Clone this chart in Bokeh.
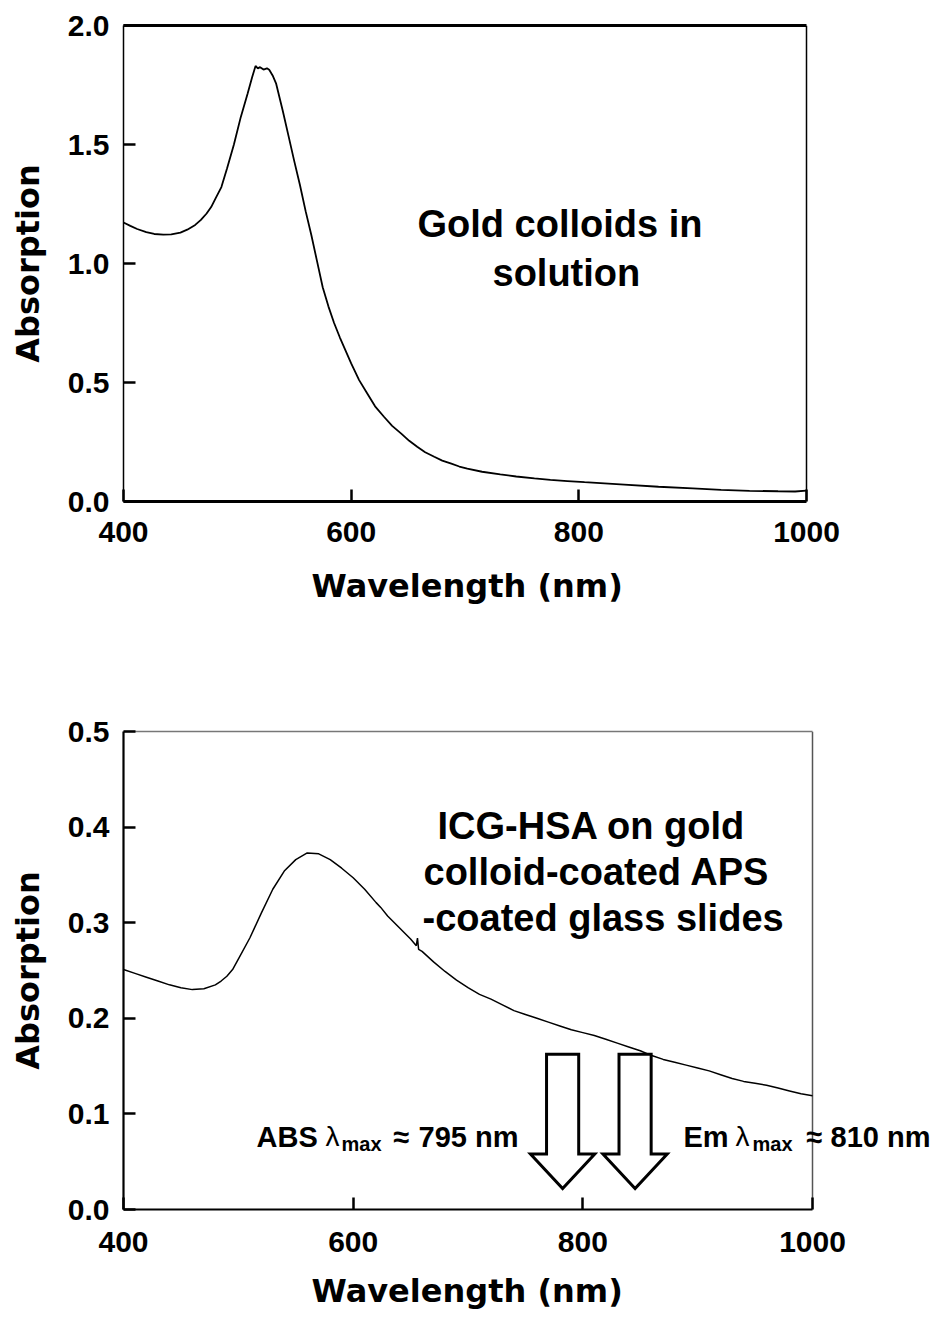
from bokeh.plotting import figure
from bokeh.models import Range1d, FixedTicker, PrintfTickFormatter, Label, LinearAxis, Title
from bokeh.layouts import column
from bokeh.embed import file_html
from bokeh.resources import INLINE

# ---------------- data ----------------
gold_wl = [400, 406, 412, 420, 427, 435, 442, 450, 456, 463, 468, 473, 477, 481, 486, 491,
           497, 503, 509, 513, 516, 518, 520, 523, 526, 528, 531, 534, 540, 545, 550, 555,
           560, 565, 570, 575, 580, 585, 590, 595, 600, 607, 614, 621, 629, 636, 644, 651,
           658, 665, 673, 680, 688, 695, 702, 715, 731, 745, 761, 775, 790, 805, 819, 840,
           870, 900, 925, 950, 975, 990, 1000]
gold_abs = [1.172, 1.158, 1.145, 1.132, 1.124, 1.121, 1.122, 1.130, 1.142, 1.162, 1.183,
            1.210, 1.237, 1.275, 1.321, 1.400, 1.500, 1.615, 1.713, 1.783, 1.830, 1.820,
            1.825, 1.815, 1.820, 1.814, 1.790, 1.757, 1.640, 1.535, 1.430, 1.330, 1.220,
            1.120, 1.010, 0.900, 0.820, 0.750, 0.690, 0.635, 0.580, 0.510, 0.455, 0.400,
            0.355, 0.318, 0.285, 0.255, 0.230, 0.207, 0.188, 0.172, 0.159, 0.147, 0.138,
            0.125, 0.114, 0.105, 0.097, 0.091, 0.086, 0.081, 0.077, 0.071, 0.062, 0.055,
            0.049, 0.045, 0.043, 0.042, 0.046]

icg_wl = [400, 410, 420, 430, 440, 450, 460, 470, 480, 485, 490, 495, 500, 510, 520, 530,
          540, 550, 560, 570, 580, 590, 600, 610, 620, 624, 630, 640, 650, 655, 656, 657,
          660, 670, 680, 690, 700, 710, 720, 730, 740, 750, 760, 770, 780, 790, 800, 810,
          820, 830, 840, 850, 860, 870, 880, 890, 900, 910, 920, 930, 940, 950, 960, 970,
          980, 990, 1000]
icg_abs = [0.251, 0.247, 0.243, 0.239, 0.235, 0.232, 0.230, 0.231, 0.235, 0.239, 0.244,
           0.251, 0.262, 0.284, 0.310, 0.335, 0.354, 0.366, 0.373, 0.372, 0.366, 0.357,
           0.347, 0.335, 0.321, 0.316, 0.307, 0.295, 0.283, 0.276, 0.284, 0.272, 0.270,
           0.259, 0.249, 0.240, 0.232, 0.225, 0.220, 0.214, 0.208, 0.204, 0.200, 0.196,
           0.192, 0.188, 0.185, 0.182, 0.178, 0.174, 0.170, 0.166, 0.161, 0.157, 0.154,
           0.151, 0.148, 0.145, 0.141, 0.137, 0.134, 0.132, 0.130, 0.127, 0.124, 0.121,
           0.119]

x_ticks = [400, 600, 800, 1000]
top_y_ticks = [0.0, 0.5, 1.0, 1.5, 2.0]
bot_y_ticks = [0.0, 0.1, 0.2, 0.3, 0.4, 0.5]
x_title = "Wavelength (nm)"
y_title = "Absorption"

# arrow annotations (bottom panel): centre wavelengths of the two hollow arrows
arrow_centers = [782.4, 845.5]
arrow_shaft_half = 14.0
arrow_head_half = 28.0
arrow_top = 0.1625
arrow_shaft_bottom = 0.058
arrow_tip = 0.022

TICK_FONT = "Liberation Sans"
TITLE_FONT = "DejaVu Sans"
ANN_FONT = "Liberation Sans"

# layout (pixels)
W = 934
TOP_H = 640
BOT_H = 685
FRAME_L = 123
TOP_BOX_R = 806     # where the top panel's box closes (1000 nm)
BOT_BOX_R = 812     # where the bottom panel's box closes (1000 nm)
PX_NM_TOP = (TOP_BOX_R - FRAME_L) / 600.0
PX_NM_BOT = (BOT_BOX_R - FRAME_L) / 600.0
X_TITLE_OFFSET = 188   # from frame left to the start of the x title


def style(p, yticks, x_line_w, y_line_w, x_title_standoff):
    p.xaxis.ticker = FixedTicker(ticks=x_ticks)
    p.yaxis.ticker = FixedTicker(ticks=yticks)
    p.xaxis.formatter = PrintfTickFormatter(format="%d")
    p.yaxis.formatter = PrintfTickFormatter(format="%.1f")
    for ax in (p.xaxis, p.yaxis):
        ax.major_tick_in = 12
        ax.major_tick_out = 0
        ax.major_tick_line_width = 2.5
        ax.major_tick_line_color = "black"
        ax.minor_tick_line_color = None
        ax.major_label_text_font = TICK_FONT
        ax.major_label_text_font_style = "bold"
        ax.major_label_text_font_size = "30px"
        ax.major_label_text_color = "black"
        ax.axis_label_text_font = TITLE_FONT
        ax.axis_label_text_font_style = "bold"
        ax.axis_label_text_font_size = "32px"
        ax.axis_label_text_color = "black"
        ax.axis_line_color = "black"
    p.xaxis.axis_line_width = x_line_w
    p.yaxis.axis_line_width = y_line_w
    p.xaxis.bounds = (400, 1000)
    p.yaxis.major_label_standoff = 14
    p.yaxis.axis_label = y_title
    p.yaxis.axis_label_standoff = 18
    # x title placed as a "below" title so it is centred on the 400-1000 box
    p.add_layout(Title(text=x_title, align="left", offset=X_TITLE_OFFSET,
                       standoff=x_title_standoff, text_font=TITLE_FONT,
                       text_font_style="bold", text_font_size="32px",
                       text_color="black"), "below")
    p.xgrid.visible = False
    p.ygrid.visible = False
    p.outline_line_color = None
    p.background_fill_color = "white"
    p.border_fill_color = "white"


def box_top_right(p, top_y, top_w, top_color, right_w, right_color):
    ax = LinearAxis(ticker=FixedTicker(ticks=[]), axis_line_width=top_w,
                    axis_line_color=top_color, major_label_text_font_size="0px",
                    major_tick_line_color=None, minor_tick_line_color=None,
                    bounds=(400, 1000))
    p.add_layout(ax, "above")
    p.segment(x0=[1000], y0=[0], x1=[1000], y1=[top_y], line_color=right_color,
              line_width=right_w)


# Both frames run to the right page edge (so notes beyond 1000 nm are not clipped);
# each box is closed at 1000 nm.
# ---------------- top panel ----------------
x_end_top = 400 + (W - FRAME_L) / PX_NM_TOP
p1 = figure(width=W, height=TOP_H, x_range=Range1d(400, x_end_top), y_range=Range1d(0, 2.0),
            output_backend="svg", toolbar_location=None,
            min_border_left=FRAME_L, min_border_right=0, min_border_top=25,
            min_border_bottom=TOP_H - 501)
p1.xaxis.major_label_standoff = 20
style(p1, top_y_ticks, 3, 1.5, 41)
box_top_right(p1, 2.0, 3, "black", 1.5, "black")
p1.line(gold_wl, gold_abs, line_color="black", line_width=1.8)

ann_kw = dict(text_font=ANN_FONT, text_font_style="bold", text_font_size="38px",
              text_color="black", text_align="left", text_baseline="alphabetic")


def tx(px):
    return 400 + (px - FRAME_L) / PX_NM_TOP


p1.add_layout(Label(x=tx(417), y=1.168, text="Gold colloids in", **ann_kw))
p1.add_layout(Label(x=tx(492), y=0.962, text="solution", **ann_kw))

# ---------------- bottom panel ----------------
x_end_bot = 400 + (W - FRAME_L) / PX_NM_BOT
bot_top = 731 - TOP_H
p2 = figure(width=W, height=BOT_H, x_range=Range1d(400, x_end_bot), y_range=Range1d(0, 0.5),
            output_backend="svg", toolbar_location=None,
            min_border_left=FRAME_L, min_border_right=0, min_border_top=bot_top,
            min_border_bottom=BOT_H - bot_top - 480)
p2.xaxis.major_label_standoff = 22
style(p2, bot_y_ticks, 1.8, 2.2, 31)
box_top_right(p2, 0.5, 1.3, "#777777", 1.5, "#555555")
p2.line(icg_wl, icg_abs, line_color="black", line_width=1.5)

xs, ys = [], []
for c in arrow_centers:
    xs.append([c - arrow_shaft_half, c + arrow_shaft_half, c + arrow_shaft_half,
               c + arrow_head_half, c, c - arrow_head_half, c - arrow_shaft_half])
    ys.append([arrow_top, arrow_top, arrow_shaft_bottom, arrow_shaft_bottom, arrow_tip,
               arrow_shaft_bottom, arrow_shaft_bottom])
p2.patches(xs, ys, fill_color="white", line_color="black", line_width=3, line_join="miter")


def bx(px):
    # page column -> wavelength for the bottom panel
    return 400 + (px - FRAME_L) / PX_NM_BOT


p2.add_layout(Label(x=bx(437), y=0.401, text="ICG-HSA on gold", **ann_kw))
p2.add_layout(Label(x=bx(423), y=0.353, text="colloid-coated APS", **ann_kw))
p2.add_layout(Label(x=bx(422), y=0.305, text="-coated glass slides", **ann_kw))

small_kw = dict(text_font=ANN_FONT, text_color="black", text_align="left",
                text_baseline="alphabetic")
base_y = 0.076


def lam_label(px_word, word, px_lam, px_sub, px_approx, px_num, num):
    p2.add_layout(Label(x=bx(px_word), y=base_y, text=word, text_font_style="bold",
                        text_font_size="29px", **small_kw))
    p2.add_layout(Label(x=bx(px_lam), y=base_y, text="\u03bb", text_font_style="normal",
                        text_font_size="28px", **small_kw))
    p2.add_layout(Label(x=bx(px_sub), y=base_y, y_offset=-7, text="max", text_font_style="bold",
                        text_font_size="20px", **small_kw))
    p2.add_layout(Label(x=bx(px_approx), y=base_y, text="\u2248", text_font_style="bold",
                        text_font_size="29px", **small_kw))
    p2.add_layout(Label(x=bx(px_num), y=base_y, text=num, text_font_style="bold",
                        text_font_size="29px", **small_kw))


lam_label(256, "ABS", 325, 341, 393, 418, "795 nm")
lam_label(683, "Em", 735, 752, 806, 830, "810 nm")

layout = column(p1, p2)
open("out.html", "w").write(file_html(layout, INLINE))
